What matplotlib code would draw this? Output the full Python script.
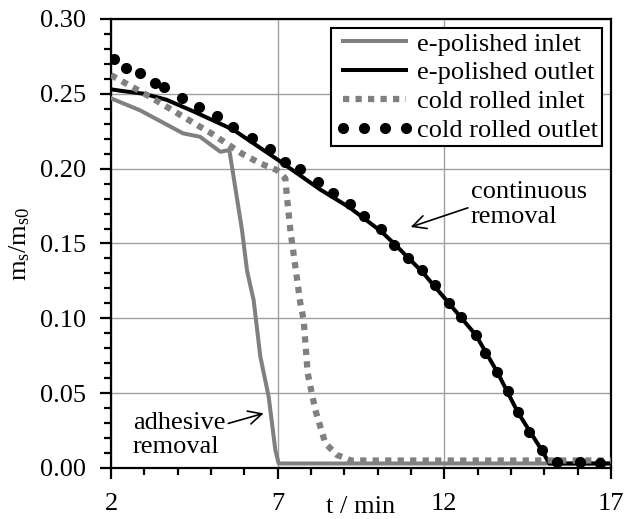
import matplotlib
matplotlib.use("Agg")
import matplotlib.pyplot as plt
from matplotlib.ticker import MultipleLocator, FormatStrFormatter

plt.rcParams["font.family"] = ["Liberation Serif", "DejaVu Serif"]
plt.rcParams["mathtext.fontset"] = "custom"
plt.rcParams["mathtext.rm"] = "Liberation Serif"
plt.rcParams["mathtext.it"] = "Liberation Serif"

# e-polished inlet (grey solid)
ep_in_t = [2.0, 2.87, 4.16, 4.67, 5.28, 5.55, 5.93, 6.08, 6.28, 6.48, 6.73, 6.93, 7.03, 10.0, 17.0]
ep_in_v = [0.247, 0.239, 0.2236, 0.2213, 0.2113, 0.2124, 0.159, 0.132, 0.112, 0.0744, 0.0476, 0.012, 0.003, 0.003, 0.003]

# e-polished outlet (black solid)
ep_out_t = [2.0, 2.3, 3.0, 3.67, 4.5, 5.67, 7.0, 8.28, 9.16, 10.11, 10.49, 11.34, 12.14, 12.94,
            13.59, 14.21, 14.92, 15.15, 17.0]
ep_out_v = [0.253, 0.252, 0.250, 0.246, 0.238, 0.226, 0.206, 0.186, 0.174, 0.158, 0.150, 0.131,
            0.110, 0.089, 0.064, 0.037, 0.012, 0.003, 0.003]

# cold rolled inlet (grey dashed)
cr_in_t = [2.0, 3.17, 4.67, 4.98, 5.93, 6.48, 6.98, 7.23, 7.28, 7.38, 7.53, 7.68, 7.78, 7.90,
           8.13, 8.43, 8.78, 9.2, 17.0]
cr_in_v = [0.2625, 0.248, 0.228, 0.224, 0.210, 0.2035, 0.199, 0.1935, 0.181, 0.159, 0.1345, 0.110,
           0.0989, 0.0633, 0.0387, 0.0165, 0.0087, 0.005, 0.005]

# cold rolled outlet (black dots)
cr_out_t = [2.09, 2.45, 2.87, 3.32, 3.6, 4.13, 4.64, 5.18, 5.67, 6.23, 6.77, 7.23, 7.68, 8.20,
            8.66, 9.16, 9.60, 10.11, 10.49, 10.91, 11.34, 11.71, 12.14, 12.49, 12.94, 13.22,
            13.59, 13.91, 14.21, 14.54, 14.92, 15.38, 16.08, 16.68]
cr_out_v = [0.273, 0.267, 0.264, 0.257, 0.2545, 0.247, 0.241, 0.235, 0.228, 0.2205, 0.213,
            0.2046, 0.1997, 0.1908, 0.1835, 0.1764, 0.1683, 0.1597, 0.149, 0.1405, 0.1323,
            0.1223, 0.110, 0.1007, 0.0889, 0.077, 0.0643, 0.0516, 0.0376, 0.0243, 0.012,
            0.0038, 0.0038, 0.003]

x_ticks = [2, 7, 12, 17]

GREY = "#808080"

fig = plt.figure(figsize=(6.25, 5.19), dpi=100)
ax = fig.add_axes([0.1776, 0.0983, 0.8, 0.8651])

ax.plot(ep_in_t, ep_in_v, color=GREY, lw=2.9, label="e-polished inlet", zorder=3)
ax.plot(ep_out_t, ep_out_v, color="black", lw=2.9, label="e-polished outlet", zorder=4)
ax.plot(cr_in_t, cr_in_v, color=GREY, lw=4.5, linestyle=(0, (1, 1)), dash_capstyle="butt",
        label="cold rolled inlet", zorder=5)
ax.plot(cr_out_t, cr_out_v, color="black", linestyle="none", marker="o", ms=7,
        label="cold rolled outlet", zorder=6)

ax.set_xlim(2, 17)
ax.set_ylim(0, 0.30)
ax.set_xticks(x_ticks)
ax.xaxis.set_minor_locator(MultipleLocator(1))
ax.yaxis.set_major_locator(MultipleLocator(0.05))
ax.yaxis.set_minor_locator(MultipleLocator(0.01))
ax.yaxis.set_major_formatter(FormatStrFormatter("%.2f"))
ax.grid(True, which="major", color="#a0a0a0", lw=1.0, zorder=0)
ax.set_axisbelow(True)

for s in ax.spines.values():
    s.set_linewidth(1.6)
ax.tick_params(which="major", direction="out", length=8, width=1.6, labelsize=19, pad=10)
ax.tick_params(which="minor", direction="out", length=5, width=1.6)

ax.set_xlabel("t / min", fontsize=19)
ax.xaxis.set_label_coords(0.5, -0.062)
ax.set_ylabel(r"$\mathregular{m_s/m_{s0}}$", fontsize=19)
ax.yaxis.set_label_coords(-0.158, 0.5)

leg = ax.legend(loc="upper right", fontsize=19, handlelength=3.0, handletextpad=0.1,
                borderpad=0.15, labelspacing=0.2, borderaxespad=0.35, numpoints=4,
                fancybox=False, framealpha=1)
leg.get_frame().set_edgecolor("black")
leg.get_frame().set_linewidth(1.5)

ax.annotate("continuous\nremoval", xy=(10.99, 0.161), xytext=(12.79, 0.176),
            fontsize=19, va="center", ha="left", linespacing=1.15,
            arrowprops=dict(arrowstyle="->", color="black", lw=1.2, mutation_scale=24,
                            shrinkA=0, shrinkB=0, relpos=(0, 0.45)))
ax.annotate("adhesive\nremoval", xy=(6.58, 0.0365), xytext=(2.66, 0.022),
            fontsize=19, va="center", ha="left", linespacing=1.15,
            arrowprops=dict(arrowstyle="->", color="black", lw=1.2, mutation_scale=24,
                            shrinkA=0, shrinkB=0, relpos=(0.8, 0.62)))

fig.savefig("out.png", dpi=100)
